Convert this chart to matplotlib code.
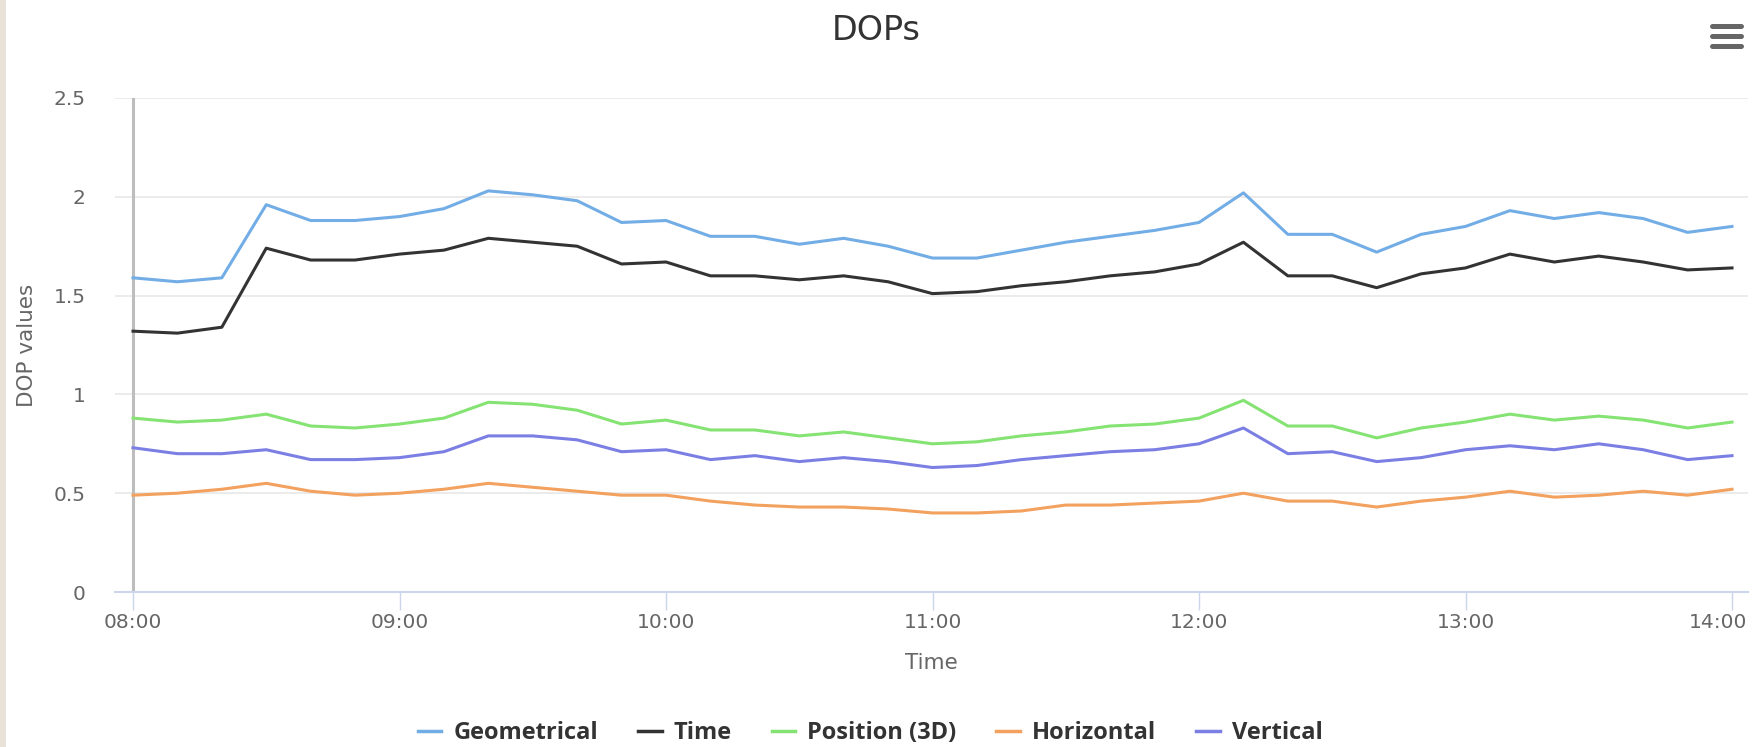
import matplotlib
matplotlib.use("Agg")
import matplotlib.pyplot as plt
import matplotlib.dates as mdates
from matplotlib.lines import Line2D
from matplotlib.patches import Rectangle
from matplotlib.transforms import ScaledTranslation
import pandas as pd

# ---- data ----
times = pd.date_range("2000-01-01 08:00", "2000-01-01 14:00", freq="10min")
geometrical = [1.59, 1.57, 1.59, 1.96, 1.88, 1.88, 1.90, 1.94, 2.03, 2.01, 1.98, 1.87, 1.88,
               1.80, 1.80, 1.76, 1.79, 1.75, 1.69, 1.69, 1.73, 1.77, 1.80, 1.83, 1.87, 2.02,
               1.81, 1.81, 1.72, 1.81, 1.85, 1.93, 1.89, 1.92, 1.89, 1.82, 1.85]
time_dop = [1.32, 1.31, 1.34, 1.74, 1.68, 1.68, 1.71, 1.73, 1.79, 1.77, 1.75, 1.66, 1.67,
            1.60, 1.60, 1.58, 1.60, 1.57, 1.51, 1.52, 1.55, 1.57, 1.60, 1.62, 1.66, 1.77,
            1.60, 1.60, 1.54, 1.61, 1.64, 1.71, 1.67, 1.70, 1.67, 1.63, 1.64]
position = [0.88, 0.86, 0.87, 0.90, 0.84, 0.83, 0.85, 0.88, 0.96, 0.95, 0.92, 0.85, 0.87,
            0.82, 0.82, 0.79, 0.81, 0.78, 0.75, 0.76, 0.79, 0.81, 0.84, 0.85, 0.88, 0.97,
            0.84, 0.84, 0.78, 0.83, 0.86, 0.90, 0.87, 0.89, 0.87, 0.83, 0.86]
horizontal = [0.49, 0.50, 0.52, 0.55, 0.51, 0.49, 0.50, 0.52, 0.55, 0.53, 0.51, 0.49, 0.49,
              0.46, 0.44, 0.43, 0.43, 0.42, 0.40, 0.40, 0.41, 0.44, 0.44, 0.45, 0.46, 0.50,
              0.46, 0.46, 0.43, 0.46, 0.48, 0.51, 0.48, 0.49, 0.51, 0.49, 0.52]
vertical = [0.73, 0.70, 0.70, 0.72, 0.67, 0.67, 0.68, 0.71, 0.79, 0.79, 0.77, 0.71, 0.72,
            0.67, 0.69, 0.66, 0.68, 0.66, 0.63, 0.64, 0.67, 0.69, 0.71, 0.72, 0.75, 0.83,
            0.70, 0.71, 0.66, 0.68, 0.72, 0.74, 0.72, 0.75, 0.72, 0.67, 0.69]

series_names = ["Geometrical", "Time", "Position (3D)", "Horizontal", "Vertical"]
series_values = [geometrical, time_dop, position, horizontal, vertical]
series_colors = ["#72ade6", "#333333", "#85e373", "#f2a15e", "#7b7fe3"]
y_ticks = [0, 0.5, 1, 1.5, 2, 2.5]
y_tick_labels = ["0", "0.5", "1", "1.5", "2", "2.5"]

W, H = 1752, 747
fig = plt.figure(figsize=(W / 100, H / 100), dpi=100)
fig.patch.set_facecolor("white")

ax_left, ax_right, ax_top, ax_bottom = 115, 1748, 98, 592
ax = fig.add_axes([ax_left / W, 1 - ax_bottom / H, (ax_right - ax_left) / W, (ax_bottom - ax_top) / H])

for name, vals, col in zip(series_names, series_values, series_colors):
    ax.plot(times, vals, color=col, lw=2.2, label=name, solid_joinstyle="round", zorder=3)

# x limits: 08:00 at px 133, 14:00 at px 1732
t0 = mdates.date2num(times[0])
t1 = mdates.date2num(times[-1])
per_px = (t1 - t0) / (1732 - 133)
ax.set_xlim(t0 - (133 - ax_left) * per_px, t1 + (ax_right - 1732) * per_px)
ax.set_ylim(0, 2.5)

ax.axvline(times[0], color="#bdbdbd", lw=2.2, zorder=2)

ax.set_yticks(y_ticks)
ax.set_yticklabels(y_tick_labels)
ax.xaxis.set_major_locator(mdates.HourLocator())
ax.xaxis.set_major_formatter(mdates.DateFormatter("%H:%M"))

ax.grid(axis="y", color="#e6e6e6", lw=1.1)
ax.grid(axis="x", visible=False)
ax.set_axisbelow(True)
for s in ["top", "right", "left"]:
    ax.spines[s].set_visible(False)
ax.spines["bottom"].set_color("#ccd6eb")
ax.spines["bottom"].set_linewidth(1.5)

ax.tick_params(axis="y", length=0, pad=21, labelsize=14.5, labelcolor="#666666")
ax.tick_params(axis="x", direction="out", length=13, width=1.0, color="#ccd6eb",
               pad=2, labelsize=14.5, labelcolor="#666666")

ax.set_xlabel("Time", fontsize=15.5, color="#666666", labelpad=15)
ax.set_ylabel("DOP values", fontsize=15.5, color="#666666", labelpad=12)

fig.text(0.5, 1 - 40 / H, "DOPs", ha="center", va="baseline", fontsize=24, color="#333333")

leg = fig.legend(loc="center", bbox_to_anchor=(870 / W, 1 - 733 / H), ncol=5, frameon=False,
                 handlelength=1.0, handletextpad=0.5, columnspacing=1.7,
                 prop={"family": "Open Sans", "weight": "bold", "size": 17})
for t in leg.get_texts():
    t.set_color("#333333")
for h in leg.get_lines():
    h.set_linewidth(2.5)

# left beige strip
fig.patches.append(Rectangle((0, 0), 6 / W, 1, transform=fig.transFigure,
                             facecolor="#e8e2d8", edgecolor="none"))

# menu icon (hamburger)
for yy in [25.7, 35.8, 46.0]:
    fig.add_artist(Line2D([1712 / W, 1741 / W], [1 - yy / H, 1 - yy / H], color="#666666",
                          lw=3.6, solid_capstyle="round", transform=fig.transFigure))

# keep the last x label inside the chart (as the reference does)
fig.canvas.draw()
last_label = ax.xaxis.get_major_ticks()[-1].label1
last_label.set_transform(last_label.get_transform() + ScaledTranslation(-0.14, 0, fig.dpi_scale_trans))

fig.savefig("out.png", dpi=100)
